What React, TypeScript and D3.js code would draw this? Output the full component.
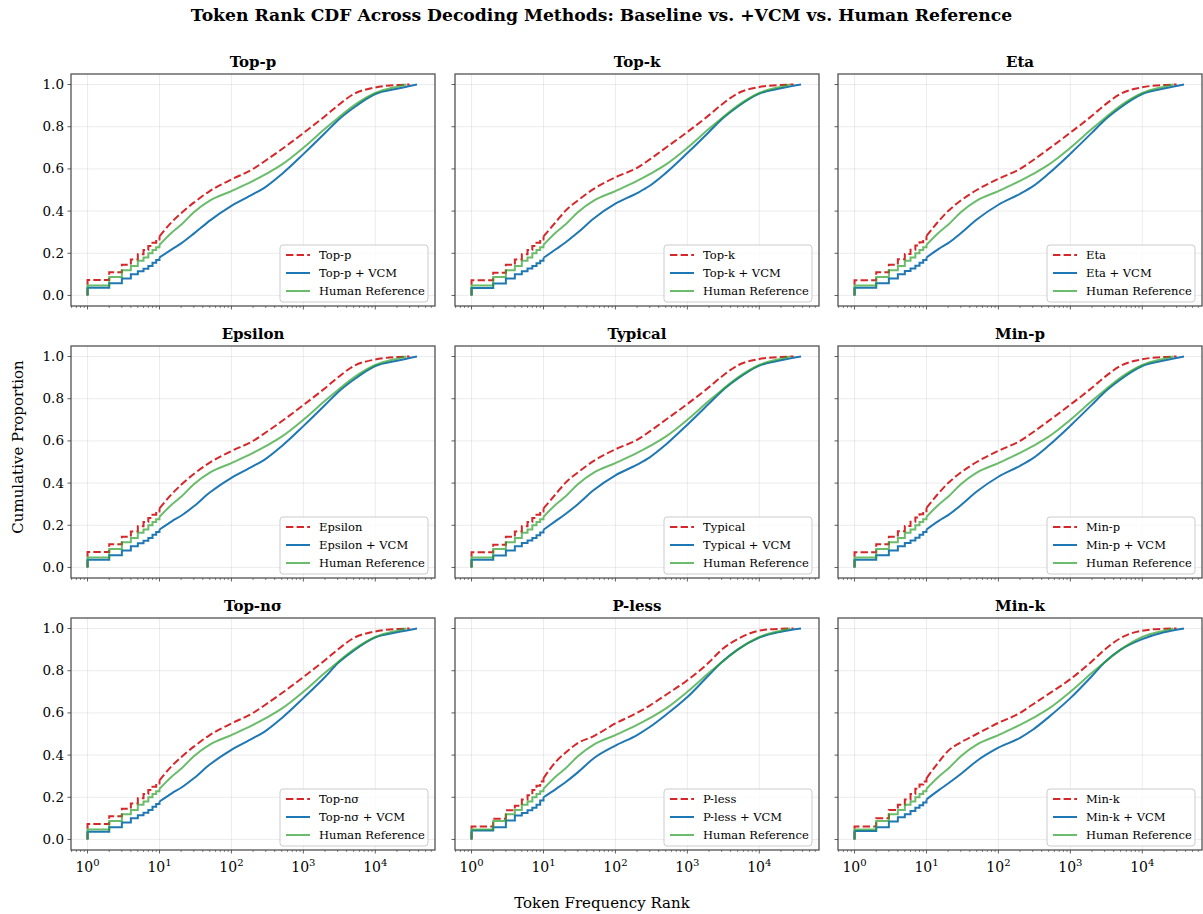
// App.tsx
import React from "react";
import * as d3 from "d3";

// token frequency ranks at which the CDFs were read
const RANKS = [1, 2, 3, 4, 5, 6, 7, 8, 9, 10, 15, 20, 30, 50, 100, 200, 300, 500, 1000, 2000, 3000, 5000, 10000, 20000];

const HUMAN = [0.047, 0.088, 0.12, 0.14, 0.165, 0.18, 0.2, 0.215, 0.228, 0.24, 0.3, 0.335, 0.395, 0.45, 0.495, 0.543, 0.575, 0.62, 0.7, 0.79, 0.84, 0.9, 0.96, 0.99];
const HUMAN_END = 27000;
const BASE_END = 30000;
const VCM_END = 38000;

const METHODS = ["Top-p", "Top-k", "Eta", "Epsilon", "Typical", "Min-p", "Top-nσ", "P-less", "Min-k"];

const TOP_P_BASE = [0.073, 0.11, 0.146, 0.17, 0.195, 0.215, 0.235, 0.25, 0.265, 0.28, 0.35, 0.39, 0.44, 0.495, 0.55, 0.6, 0.64, 0.693, 0.77, 0.85, 0.9, 0.955, 0.986, 0.998];
const TOP_P_VCM = [0.036, 0.058, 0.08, 0.1, 0.115, 0.127, 0.14, 0.155, 0.168, 0.18, 0.22, 0.247, 0.293, 0.355, 0.425, 0.48, 0.515, 0.575, 0.67, 0.77, 0.83, 0.89, 0.955, 0.98];
const TOP_K_BASE = [0.072, 0.108, 0.145, 0.17, 0.195, 0.215, 0.235, 0.25, 0.265, 0.28, 0.35, 0.4, 0.45, 0.505, 0.56, 0.605, 0.645, 0.7, 0.775, 0.855, 0.905, 0.958, 0.988, 0.998];
const TOP_K_VCM = [0.035, 0.057, 0.08, 0.1, 0.115, 0.128, 0.14, 0.153, 0.165, 0.178, 0.22, 0.25, 0.298, 0.365, 0.435, 0.485, 0.52, 0.58, 0.675, 0.775, 0.835, 0.895, 0.957, 0.982];
const ETA_BASE = [0.072, 0.11, 0.146, 0.172, 0.197, 0.217, 0.237, 0.252, 0.267, 0.282, 0.355, 0.4, 0.45, 0.5, 0.553, 0.6, 0.64, 0.695, 0.772, 0.852, 0.903, 0.956, 0.987, 0.998];
const ETA_VCM = [0.036, 0.058, 0.08, 0.1, 0.116, 0.128, 0.141, 0.155, 0.168, 0.18, 0.222, 0.248, 0.295, 0.36, 0.43, 0.482, 0.517, 0.578, 0.672, 0.772, 0.832, 0.892, 0.955, 0.981];
const EPSILON_BASE = [0.073, 0.11, 0.146, 0.17, 0.195, 0.215, 0.235, 0.25, 0.265, 0.28, 0.35, 0.392, 0.443, 0.497, 0.552, 0.6, 0.64, 0.693, 0.77, 0.85, 0.9, 0.955, 0.986, 0.998];
const EPSILON_VCM = [0.036, 0.058, 0.08, 0.1, 0.115, 0.127, 0.14, 0.155, 0.168, 0.18, 0.22, 0.245, 0.29, 0.355, 0.425, 0.48, 0.515, 0.575, 0.67, 0.77, 0.83, 0.89, 0.955, 0.98];
const TYPICAL_BASE = [0.072, 0.108, 0.145, 0.17, 0.195, 0.215, 0.235, 0.25, 0.265, 0.28, 0.35, 0.4, 0.45, 0.505, 0.56, 0.605, 0.645, 0.7, 0.775, 0.855, 0.905, 0.958, 0.988, 0.998];
const TYPICAL_VCM = [0.036, 0.057, 0.08, 0.1, 0.116, 0.128, 0.14, 0.153, 0.166, 0.179, 0.222, 0.252, 0.3, 0.367, 0.437, 0.487, 0.522, 0.582, 0.677, 0.777, 0.836, 0.895, 0.957, 0.982];
const MIN_P_BASE = [0.072, 0.11, 0.146, 0.172, 0.197, 0.217, 0.237, 0.252, 0.267, 0.282, 0.355, 0.4, 0.45, 0.5, 0.553, 0.6, 0.64, 0.695, 0.772, 0.852, 0.903, 0.956, 0.987, 0.998];
const MIN_P_VCM = [0.036, 0.058, 0.08, 0.1, 0.116, 0.128, 0.141, 0.155, 0.168, 0.18, 0.222, 0.248, 0.295, 0.36, 0.43, 0.482, 0.517, 0.578, 0.672, 0.772, 0.832, 0.892, 0.955, 0.981];
const TOP_NSIGMA_BASE = [0.073, 0.11, 0.146, 0.17, 0.195, 0.215, 0.235, 0.25, 0.265, 0.28, 0.35, 0.39, 0.44, 0.495, 0.55, 0.6, 0.64, 0.693, 0.77, 0.85, 0.9, 0.955, 0.986, 0.998];
const TOP_NSIGMA_VCM = [0.036, 0.058, 0.08, 0.1, 0.115, 0.127, 0.14, 0.155, 0.168, 0.18, 0.22, 0.245, 0.29, 0.355, 0.425, 0.48, 0.515, 0.575, 0.67, 0.77, 0.835, 0.895, 0.958, 0.982];
const P_LESS_BASE = [0.062, 0.098, 0.138, 0.16, 0.19, 0.21, 0.235, 0.255, 0.275, 0.29, 0.37, 0.41, 0.457, 0.49, 0.55, 0.6, 0.635, 0.685, 0.755, 0.84, 0.9, 0.95, 0.99, 0.999];
const P_LESS_VCM = [0.043, 0.058, 0.09, 0.114, 0.125, 0.138, 0.15, 0.165, 0.185, 0.2, 0.24, 0.27, 0.318, 0.385, 0.445, 0.495, 0.533, 0.59, 0.675, 0.78, 0.84, 0.9, 0.957, 0.985];
const MIN_K_BASE = [0.062, 0.1, 0.14, 0.165, 0.19, 0.215, 0.24, 0.26, 0.275, 0.29, 0.37, 0.42, 0.46, 0.5, 0.553, 0.6, 0.64, 0.69, 0.76, 0.845, 0.9, 0.955, 0.99, 0.999];
const MIN_K_VCM = [0.04, 0.058, 0.085, 0.105, 0.12, 0.135, 0.15, 0.162, 0.175, 0.19, 0.235, 0.265, 0.31, 0.372, 0.435, 0.482, 0.52, 0.58, 0.67, 0.775, 0.84, 0.9, 0.95, 0.982];

const BASES = [TOP_P_BASE, TOP_K_BASE, ETA_BASE, EPSILON_BASE, TYPICAL_BASE, MIN_P_BASE, TOP_NSIGMA_BASE, P_LESS_BASE, MIN_K_BASE];
const VCMS = [TOP_P_VCM, TOP_K_VCM, ETA_VCM, EPSILON_VCM, TYPICAL_VCM, MIN_P_VCM, TOP_NSIGMA_VCM, P_LESS_VCM, MIN_K_VCM];

const Y_TICKS = [0, 0.2, 0.4, 0.6, 0.8, 1.0];
const X_TICKS = [1, 10, 100, 1000, 10000];

const W = 1203;
const H = 914;
const FONT = "'DejaVu Serif', serif";
const RED = "#d62728";
const BLUE = "#1f77b4";
const GREEN = "#2ca02c";

const PW = 364;
const PH = 232;
const COL_X = [71, 455, 838];
const ROW_Y = [74, 346, 618];
const STEP_MAX = 10;

const x = d3.scaleLog().domain([10 ** -0.23, 10 ** 4.83]).range([0, PW]);
const y = d3.scaleLinear().domain([-0.05, 1.05]).range([PH, 0]);
const stepLine = d3.line<[number, number]>().x(d => x(d[0])).y(d => y(d[1]));
const smoothLine = d3.line<[number, number]>().x(d => x(d[0])).y(d => y(d[1])).curve(d3.curveMonotoneX);

// integer ranks drawn as steps, the long tail as a smooth curve
function cdfPath(values: number[], end: number): string {
  const steps: [number, number][] = [[1, 0]];
  const tail: [number, number][] = [];
  RANKS.forEach((r, i) => {
    if (r <= STEP_MAX) {
      if (i > 0) steps.push([r, values[i - 1]]);
      steps.push([r, values[i]]);
    }
    if (r >= STEP_MAX) tail.push([r, values[i]]);
  });
  tail.push([end, 1]);
  return (stepLine(steps) || "") + (smoothLine(tail) || "");
}

const minorTicks: number[] = [];
for (let e = -1; e <= 4; e++) {
  for (let m = 2; m <= 9; m++) {
    const v = m * 10 ** e;
    if (v >= x.domain()[0] && v <= x.domain()[1]) minorTicks.push(v);
  }
}

function Panel({ idx }: { idx: number }) {
  const col = idx % 3;
  const row = Math.floor(idx / 3);
  const name = METHODS[idx];
  const lx = PW - 155;
  const ly = PH - 61;
  const items = [
    { label: name, color: RED, dash: "7.4,3.2", op: 1 },
    { label: `${name} + VCM`, color: BLUE, dash: null, op: 1 },
    { label: "Human Reference", color: GREEN, dash: null, op: 0.7 },
  ];
  return (
    <g transform={`translate(${COL_X[col]},${ROW_Y[row]})`}>
      <text x={PW / 2} y={-7} textAnchor="middle" fontWeight="bold" fontSize={15}>{name}</text>
      {Y_TICKS.map(t => (
        <line key={"gy" + t} x1={0} x2={PW} y1={y(t)} y2={y(t)} stroke="#b0b0b0" strokeOpacity={0.3} strokeWidth={0.8} />
      ))}
      {X_TICKS.map(t => (
        <line key={"gx" + t} x1={x(t)} x2={x(t)} y1={0} y2={PH} stroke="#b0b0b0" strokeOpacity={0.3} strokeWidth={0.8} />
      ))}
      <path d={cdfPath(BASES[idx], BASE_END)} fill="none" stroke={RED} strokeWidth={2} strokeDasharray="7.4,3.2" />
      <path d={cdfPath(VCMS[idx], VCM_END)} fill="none" stroke={BLUE} strokeWidth={2} />
      <path d={cdfPath(HUMAN, HUMAN_END)} fill="none" stroke={GREEN} strokeOpacity={0.7} strokeWidth={2} />
      {/* legend */}
      <g transform={`translate(${lx},${ly})`}>
        <rect x={0} y={0} width={148} height={57} rx={3} fill="white" fillOpacity={0.8} stroke="#cccccc" strokeWidth={1} />
        {items.map((it, i) => (
          <g key={i} transform={`translate(0,${10 + i * 18})`}>
            <line x1={6} x2={30} y1={0} y2={0} stroke={it.color} strokeOpacity={it.op} strokeWidth={2} strokeDasharray={it.dash || undefined} />
            <text x={39} y={4} fontSize={11.5}>{it.label}</text>
          </g>
        ))}
      </g>
      {/* ticks */}
      {Y_TICKS.map(t => (
        <g key={"ty" + t}>
          <line x1={-3.5} x2={0} y1={y(t)} y2={y(t)} stroke="#333" strokeWidth={0.8} />
          {col === 0 && (
            <text x={-7} y={y(t) + 4.5} textAnchor="end" fontSize={13.5}>{t.toFixed(1)}</text>
          )}
        </g>
      ))}
      {minorTicks.map(t => (
        <line key={"mx" + t} x1={x(t)} x2={x(t)} y1={PH} y2={PH + 2} stroke="#333" strokeWidth={0.6} />
      ))}
      {X_TICKS.map((t, i) => (
        <g key={"tx" + t}>
          <line x1={x(t)} x2={x(t)} y1={PH} y2={PH + 3.5} stroke="#333" strokeWidth={0.8} />
          {row === 2 && (
            <text x={x(t)} y={PH + 22} textAnchor="middle" fontSize={14}>
              10<tspan dy={-6} fontSize={10}>{i}</tspan>
            </text>
          )}
        </g>
      ))}
      <rect x={0} y={0} width={PW} height={PH} fill="none" stroke="#444" strokeWidth={1.2} />
    </g>
  );
}

export default function App() {
  return (
    <svg width={W} height={H} style={{ display: "block", position: "absolute", left: 0, top: 0 }} fontFamily={FONT} fill="#000">
      <rect width={W} height={H} fill="white" />
      <text x={W / 2} y={21} textAnchor="middle" fontWeight="bold" fontSize={17.2}>
        Token Rank CDF Across Decoding Methods: Baseline vs. +VCM vs. Human Reference
      </text>
      {METHODS.map((m, i) => (
        <Panel key={m} idx={i} />
      ))}
      <text transform="translate(23,447) rotate(-90)" textAnchor="middle" fontSize={15}>Cumulative Proportion</text>
      <text x={602} y={908} textAnchor="middle" fontSize={15}>Token Frequency Rank</text>
    </svg>
  );
}
